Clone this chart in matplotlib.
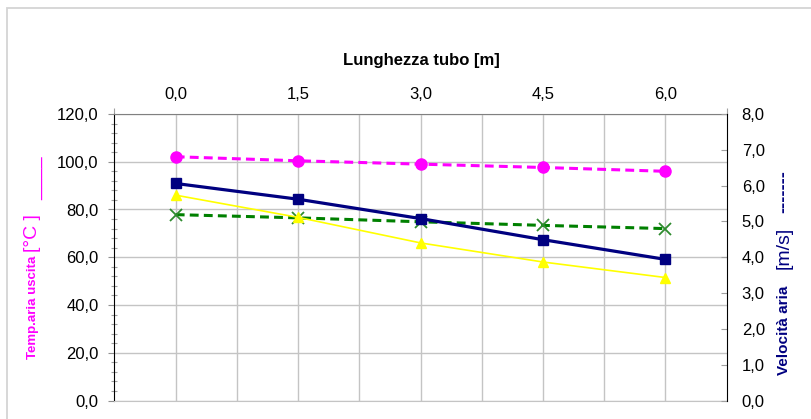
import numpy as np
import matplotlib
matplotlib.use("Agg")
import matplotlib.pyplot as plt
from matplotlib.ticker import MultipleLocator, FixedLocator, FuncFormatter
from matplotlib.patches import Rectangle

plt.rcParams['font.family'] = ['Liberation Sans', 'DejaVu Sans']

# dati
lunghezza = [0.0, 1.5, 3.0, 4.5, 6.0]
temp_uscita = [102.1, 100.4, 99.0, 97.6, 96.0]      # magenta, asse sx
temp_gialla = [86.0, 76.7, 66.0, 58.0, 51.5]        # giallo, asse sx
vel_blu = [6.06, 5.62, 5.08, 4.49, 3.94]            # blu, asse dx
vel_verde = [5.19, 5.10, 4.99, 4.89, 4.80]          # verde, asse dx

W, H = 812, 419
fig = plt.figure(figsize=(W / 100, H / 100), dpi=100)

# cornice grigia del grafico (tagliata a dx e in basso)
fig.add_artist(Rectangle((7 / W, -0.05), 1.2, 1 - 8 / H + 0.05,
                         transform=fig.transFigure, fill=False,
                         edgecolor='#d4d4d4', lw=1.3))

ax = fig.add_axes([114.5 / W, 1 - 400.5 / H, (726.7 - 114.5) / W, (400.5 - 114) / H])
ax2 = ax.twinx()

virgola = lambda v, p: f"{v:.1f}".replace(".", ",")

# asse x in alto
ax.set_xlim(-0.75, 6.75)
ax.xaxis.tick_top()
ax.xaxis.set_major_locator(FixedLocator(np.arange(0, 6.01, 0.75)))
ax.xaxis.set_major_formatter(FuncFormatter(
    lambda v, p: virgola(v, p) if abs(v / 1.5 - round(v / 1.5)) < 1e-6 else ""))
ax.xaxis.set_minor_locator(FixedLocator(np.arange(-0.75, 6.8, 1.5)))
ax.tick_params(axis='x', which='major', length=0, pad=8.6, labelsize=12)
ax.tick_params(axis='x', which='minor', direction='out', length=4, color='#a0a0a0', width=0.8)

# asse sx
ax.set_ylim(0, 120)
ax.yaxis.set_major_locator(MultipleLocator(20))
ax.yaxis.set_minor_locator(MultipleLocator(4))
ax.yaxis.set_major_formatter(FuncFormatter(virgola))
ax.tick_params(axis='y', which='major', direction='out', length=4.3, pad=7.2,
               labelsize=12, color='#909090', width=0.8)
ax.tick_params(axis='y', which='minor', direction='inout', length=4, color='#a0a0a0', width=0.8)

# asse dx
ax2.set_ylim(0, 8)
ax2.yaxis.set_major_locator(MultipleLocator(1))
ax2.yaxis.set_major_formatter(FuncFormatter(virgola))
ax2.tick_params(axis='y', which='major', direction='in', length=4.3, pad=10.8,
                labelsize=12, color='#a0a0a0', width=0.8)

ax.grid(True, which='major', color='#c4c4c4', lw=1.0)
ax.set_axisbelow(True)

ax.spines['right'].set_visible(False)
ax.spines['top'].set_color('#808080')
ax.spines['bottom'].set_color('#c4c4c4')
ax.spines['left'].set_color('black')
for s in ['left', 'top', 'bottom']:
    ax2.spines[s].set_visible(False)
ax2.spines['right'].set_color('black')

# serie
ax.plot(lunghezza, temp_uscita, color='#ff00ff', lw=2.2, ls=(0, (2.9, 1.7)),
        marker='o', ms=8, mec='#ff00ff', mfc='#ff00ff', clip_on=False)
ax2.plot(lunghezza, vel_verde, color='#008000', lw=2.2, ls=(0, (2.9, 1.7)),
         marker='x', ms=8.5, mew=1.3, mec='#2e8b2e', clip_on=False)
ax2.plot(lunghezza, temp_gialla, color='#ffff00', lw=1.2, marker='^', ms=6.5,
         mec='#ffff00', mfc='#ffff00', transform=ax.transData, clip_on=False)
ax2.plot(lunghezza, vel_blu, color='#000080', lw=2.3, marker='s', ms=6.5,
         mec='#000080', mfc='#000080', clip_on=False)

# titoli
fig.text(421 / W, 1 - 60 / H, "Lunghezza tubo [m]", ha='center', va='center',
         fontsize=12, fontweight='bold')

mag = '#ff00ff'
fig.text(33 / W, 1 - 307.5 / H, "Temp.aria uscita", rotation=90, rotation_mode='anchor',
         ha='center', va='center', fontsize=9.5, fontweight='bold', color=mag)
fig.text(33 / W, 1 - 233.5 / H, "[°C ]", rotation=90, rotation_mode='anchor',
         ha='center', va='center', fontsize=14, color=mag)
fig.text(39 / W, 1 - 178.5 / H, "____", rotation=90, rotation_mode='anchor',
         ha='center', va='baseline', fontsize=14, color=mag)

blu = '#000080'
fig.text(784 / W, 1 - 330 / H, "Velocità aria", rotation=90, rotation_mode='anchor',
         ha='center', va='center', fontsize=11, fontweight='bold', color=blu)
fig.text(784 / W, 1 - 247.5 / H, "[m/s]", rotation=90, rotation_mode='anchor',
         ha='center', va='center', fontsize=14, color=blu)
fig.text(784 / W, 1 - 191.5 / H, "-------", rotation=90, rotation_mode='anchor',
         ha='center', va='center', fontsize=13, fontweight='bold', color=blu)

fig.savefig("out.png", dpi=100)
